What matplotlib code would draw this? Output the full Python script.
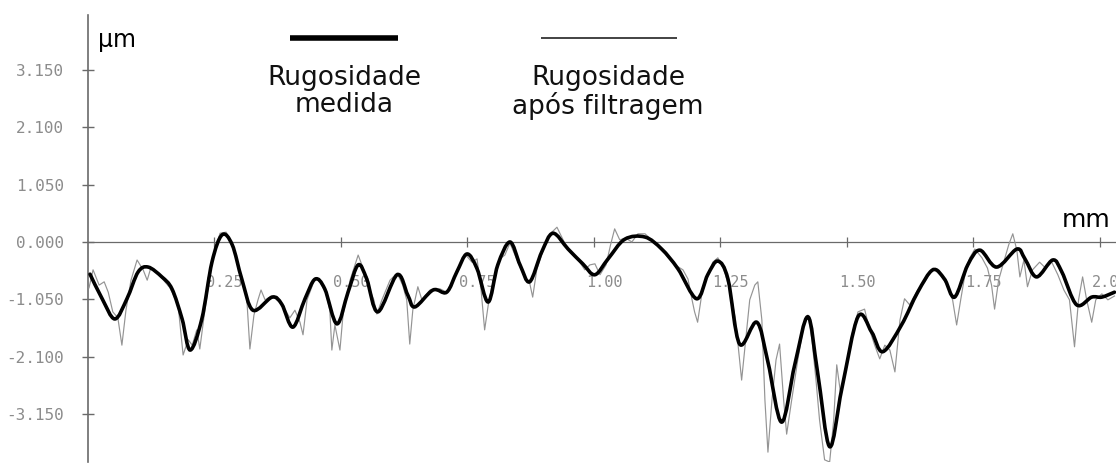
import matplotlib
matplotlib.use("Agg")
import matplotlib.pyplot as plt
from matplotlib.lines import Line2D
from matplotlib.path import Path
from matplotlib.patches import PathPatch

# roughness profile, x in mm, height in um
x_thick = [0.004, 0.028, 0.053, 0.077, 0.099, 0.119, 0.146, 0.166, 0.186, 0.202,
           0.225, 0.245, 0.265, 0.285, 0.304, 0.326, 0.364, 0.383, 0.405, 0.429,
           0.449, 0.468, 0.492, 0.514, 0.534, 0.551, 0.573, 0.611, 0.632, 0.646,
           0.682, 0.709, 0.729, 0.749, 0.769, 0.791, 0.810, 0.834, 0.854, 0.873,
           0.897, 0.919, 0.949, 0.978, 1.002, 1.028, 1.061, 1.101, 1.134, 1.166,
           1.203, 1.225, 1.245, 1.265, 1.288, 1.322, 1.344, 1.371, 1.397, 1.423,
           1.442, 1.466, 1.490, 1.522, 1.549, 1.571, 1.608, 1.640, 1.670, 1.693,
           1.713, 1.739, 1.763, 1.796, 1.836, 1.852, 1.875, 1.907, 1.925, 1.954,
           1.984, 2.004, 2.029]
y_thick = [-0.59, -1.04, -1.41, -1.04, -0.55, -0.46, -0.64, -0.86, -1.41, -1.98,
           -1.41, -0.37, 0.13, -0.05, -0.68, -1.25, -1.01, -1.14, -1.56, -1.04,
           -0.68, -0.86, -1.50, -0.92, -0.42, -0.68, -1.28, -0.60, -0.97, -1.19,
           -0.88, -0.92, -0.55, -0.22, -0.49, -1.10, -0.42, 0.00, -0.42, -0.73,
           -0.18, 0.16, -0.13, -0.40, -0.60, -0.31, 0.05, 0.09, -0.13, -0.49,
           -1.04, -0.60, -0.35, -0.68, -1.87, -1.47, -2.20, -3.30, -2.25, -1.37,
           -2.38, -3.75, -2.69, -1.37, -1.65, -2.01, -1.52, -0.92, -0.51, -0.68,
           -1.01, -0.42, -0.15, -0.46, -0.13, -0.31, -0.64, -0.33, -0.55, -1.15,
           -1.01, -1.01, -0.92]

x_thin = [0.002, 0.010, 0.022, 0.032, 0.040, 0.049, 0.059, 0.067, 0.075, 0.085,
          0.097, 0.109, 0.117, 0.124, 0.142, 0.162, 0.178, 0.188, 0.198, 0.206,
          0.215, 0.221, 0.229, 0.245, 0.261, 0.273, 0.285, 0.304, 0.314, 0.320,
          0.328, 0.336, 0.342, 0.350, 0.364, 0.383, 0.399, 0.409, 0.419, 0.425,
          0.433, 0.449, 0.458, 0.470, 0.478, 0.482, 0.488, 0.494, 0.498, 0.504,
          0.518, 0.534, 0.545, 0.557, 0.565, 0.571, 0.581, 0.597, 0.611, 0.622,
          0.630, 0.636, 0.642, 0.652, 0.660, 0.676, 0.696, 0.709, 0.729, 0.745,
          0.759, 0.769, 0.777, 0.784, 0.792, 0.804, 0.814, 0.824, 0.834, 0.850,
          0.864, 0.873, 0.879, 0.887, 0.903, 0.917, 0.927, 0.939, 0.952, 0.972,
          0.982, 0.992, 1.002, 1.012, 1.024, 1.033, 1.041, 1.051, 1.063, 1.075,
          1.087, 1.101, 1.114, 1.134, 1.160, 1.176, 1.186, 1.194, 1.199, 1.205,
          1.213, 1.225, 1.235, 1.245, 1.257, 1.269, 1.280, 1.292, 1.300, 1.308,
          1.318, 1.324, 1.332, 1.338, 1.344, 1.352, 1.360, 1.367, 1.375, 1.381,
          1.391, 1.403, 1.415, 1.423, 1.431, 1.439, 1.446, 1.456, 1.466, 1.474,
          1.480, 1.488, 1.498, 1.510, 1.522, 1.535, 1.545, 1.555, 1.565, 1.575,
          1.585, 1.595, 1.605, 1.614, 1.624, 1.640, 1.654, 1.670, 1.684, 1.699,
          1.709, 1.717, 1.725, 1.735, 1.743, 1.753, 1.767, 1.778, 1.786, 1.792,
          1.800, 1.810, 1.820, 1.828, 1.836, 1.842, 1.850, 1.857, 1.867, 1.881,
          1.893, 1.905, 1.917, 1.929, 1.940, 1.950, 1.958, 1.966, 1.974, 1.984,
          1.992, 2.004, 2.016, 2.029]
y_thin = [-0.84, -0.51, -0.79, -0.73, -0.92, -1.28, -1.39, -1.89, -1.25, -0.70,
          -0.33, -0.51, -0.70, -0.48, -0.62, -0.84, -1.15, -2.07, -1.79, -1.89,
          -1.61, -1.96, -1.39, -0.33, 0.16, 0.18, -0.04, -0.66, -1.06, -1.96,
          -1.34, -1.06, -0.88, -1.06, -0.99, -1.14, -1.39, -1.25, -1.47, -1.70,
          -1.06, -0.66, -0.73, -0.92, -1.25, -1.98, -1.52, -1.79, -1.98, -1.34,
          -0.70, -0.24, -0.51, -0.88, -1.06, -1.32, -1.06, -0.70, -0.57, -0.79,
          -1.06, -1.87, -1.25, -0.82, -1.06, -0.88, -0.86, -0.92, -0.55, -0.22,
          -0.37, -0.31, -0.88, -1.61, -1.10, -0.60, -0.31, -0.24, -0.02, -0.37,
          -0.66, -0.75, -1.01, -0.51, -0.05, 0.18, 0.27, 0.04, -0.18, -0.37,
          -0.51, -0.42, -0.40, -0.60, -0.42, -0.05, 0.24, 0.04, 0.07, 0.00,
          0.15, 0.15, 0.04, -0.15, -0.42, -0.51, -0.68, -1.06, -1.28, -1.47,
          -0.97, -0.60, -0.37, -0.29, -0.51, -0.88, -1.43, -2.53, -1.79, -1.06,
          -0.79, -0.73, -1.43, -2.89, -3.85, -2.89, -2.16, -1.87, -2.89, -3.52,
          -2.89, -2.16, -1.52, -1.34, -1.79, -2.53, -3.26, -3.99, -4.03, -3.26,
          -2.25, -2.80, -2.34, -1.70, -1.28, -1.23, -1.61, -1.89, -2.14, -1.89,
          -1.98, -2.38, -1.43, -1.04, -1.15, -0.88, -0.73, -0.48, -0.60, -0.79,
          -1.06, -1.52, -1.06, -0.51, -0.29, -0.13, -0.29, -0.48, -0.79, -1.23,
          -0.70, -0.37, -0.05, 0.15, -0.15, -0.64, -0.33, -0.82, -0.51, -0.37,
          -0.48, -0.37, -0.60, -0.88, -1.06, -1.92, -1.06, -0.64, -1.06, -1.47,
          -1.06, -0.95, -1.06, -0.99]

y_ticks = [3.15, 2.10, 1.05, 0.0, -1.05, -2.10, -3.15]
y_ticklabels = ["3.150", "2.100", "1.050", "0.000", "-1.050", "-2.100", "-3.150"]
x_ticks = [0.25, 0.50, 0.75, 1.00, 1.25, 1.50, 1.75, 2.00]
x_ticklabels = ["0.25", "0.50", "0.75", "1.00", "1.25", "1.50", "1.75", "2.00"]

gray = "#8c8c8c"
mono = "DejaVu Sans Mono"


def smooth_path(xs, ys):
    # cubic bezier segments through every point (catmull-rom tangents)
    pts = list(zip(xs, ys))
    n = len(pts)
    verts = [pts[0]]
    codes = [Path.MOVETO]
    for i in range(n - 1):
        p0 = pts[max(i - 1, 0)]
        p1 = pts[i]
        p2 = pts[i + 1]
        p3 = pts[min(i + 2, n - 1)]
        c1 = (p1[0] + (p2[0] - p0[0]) / 6, p1[1] + (p2[1] - p0[1]) / 6)
        c2 = (p2[0] - (p3[0] - p1[0]) / 6, p2[1] - (p3[1] - p1[1]) / 6)
        verts += [c1, c2, p2]
        codes += [Path.CURVE4] * 3
    return Path(verts, codes)


fig = plt.figure(figsize=(11.16, 4.65), dpi=100)
ax = fig.add_axes([88 / 1116, 3 / 465, 1028 / 1116, 447 / 465])
ax.set_xlim(0, 2.032)
ax.set_ylim(-4.03, 4.157)

ax.plot(x_thin, y_thin, color="#949494", lw=0.85, zorder=3)
ax.add_patch(PathPatch(smooth_path(x_thick, y_thick), fill=False, ec="black",
                       lw=2.6, zorder=4, joinstyle="round", capstyle="round"))

for s in ["top", "right"]:
    ax.spines[s].set_visible(False)
ax.spines["left"].set_color("#6a6a6a")
ax.spines["left"].set_linewidth(1.2)
ax.spines["bottom"].set_position(("data", 0))
ax.spines["bottom"].set_color("#6a6a6a")
ax.spines["bottom"].set_linewidth(0.9)

ax.set_yticks(y_ticks)
ax.set_yticklabels(y_ticklabels, fontfamily=mono, fontsize=11.5, color=gray)
ax.tick_params(axis="y", direction="inout", length=9, width=1, color="#6a6a6a", pad=13)
ax.set_xticks(x_ticks)
ax.set_xticklabels([])
ax.tick_params(axis="x", direction="inout", length=7, width=0.9, color="#6a6a6a")

# x labels sit well below the zero line, a little right of each tick
for xt, lab in zip(x_ticks, x_ticklabels):
    ax.text(xt + 0.02, -0.75, lab, fontfamily=mono, fontsize=11, color=gray,
            ha="center", va="center", zorder=2)

fig.text(98 / 1116, 1 - 40 / 465, "µm", fontsize=17, ha="left", va="center")
fig.text(1086 / 1116, 1 - 220 / 465, "mm", fontsize=18, ha="center", va="center")

# legend drawn by hand above the plot
fig.add_artist(Line2D([290 / 1116, 398 / 1116], [1 - 38 / 465, 1 - 38 / 465],
                      color="black", lw=4, solid_capstyle="butt"))
fig.add_artist(Line2D([541 / 1116, 677 / 1116], [1 - 38 / 465, 1 - 38 / 465],
                      color="#222222", lw=1.2, solid_capstyle="butt"))
fig.text(344 / 1116, 1 - 65 / 465, "Rugosidade\nmedida", fontsize=19,
         ha="center", va="top", linespacing=1.05, color="#111111")
fig.text(608 / 1116, 1 - 65 / 465, "Rugosidade\napós filtragem", fontsize=19,
         ha="center", va="top", linespacing=1.05, color="#111111")

fig.savefig("out.png", dpi=100, facecolor="white")
